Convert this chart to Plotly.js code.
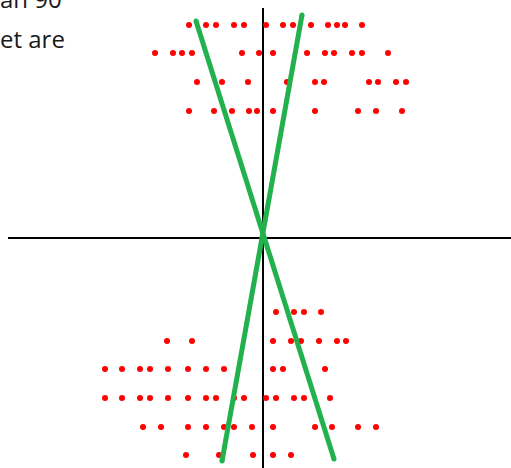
<!DOCTYPE html>
<html>
<head>
<meta charset="utf-8">
<script src="https://cdn.plot.ly/plotly-3.0.1.min.js"></script>
<style>
  html, body { margin: 0; padding: 0; background: #ffffff; }
  #chart { width: 511px; height: 468px; }
</style>
</head>
<body>
<div id="chart"></div>
<script>
// Row heights of the scattered dots (units from the origin, y up)
const rowY = [213, 185, 156, 127, -74, -103, -131, -160, -189, -217];

// Horizontal positions of the dots on each row
const rowX = [
  [-74, -57, -47, -29, -19, 3, 20, 30, 48, 65, 74, 82, 99],
  [-108, -90, -81, -71, -21, -4, 10, 44, 62, 71, 89, 99, 125],
  [-66, -41, -15, 24, 52, 61, 106, 115, 133, 143],
  [-74, -49, -31, -14, -6, 10, 52, 95, 113, 139],
  [13, 31, 41, 58],
  [-96, -71, 10, 28, 38, 56, 74, 83],
  [-158, -141, -123, -113, -95, -75, -57, -39, 10, 20, 62],
  [-158, -141, -123, -113, -95, -75, -57, -47, -29, -19, 3, 13, 31, 41, 67],
  [-120, -102, -75, -57, -39, -29, -11, 10, 52, 69, 95, 113],
  [-77, -44, -10, 10, 28]
];

// Two straight lines crossing at the origin
const lineAX = [-67, 71];
const lineAY = [217, -221];
const lineBX = [39, -41];
const lineBY = [223, -223];

// Text lines in the top-left corner
const textLines = ['an 90', 'et are'];

// Visible extent of the axes
const xRange = [-255, 248];
const yRange = [-230, 230];

const dotsX = [];
const dotsY = [];
rowX.forEach((xs, i) => xs.forEach(x => { dotsX.push(x); dotsY.push(rowY[i]); }));

const green = '#22b14c';

const traces = [
  {
    x: dotsX, y: dotsY, type: 'scatter', mode: 'markers',
    marker: { color: '#ff0000', size: 6 },
    hoverinfo: 'skip', showlegend: false
  },
  {
    x: lineAX, y: lineAY, type: 'scatter', mode: 'lines+markers',
    line: { color: green, width: 5 },
    marker: { color: green, size: 5 },
    hoverinfo: 'skip', showlegend: false
  },
  {
    x: lineBX, y: lineBY, type: 'scatter', mode: 'lines+markers',
    line: { color: green, width: 5 },
    marker: { color: green, size: 5 },
    hoverinfo: 'skip', showlegend: false
  }
];

const hiddenAxis = {
  showgrid: false, showticklabels: false, ticks: '', showline: false,
  zeroline: true, zerolinecolor: '#000000', zerolinewidth: 2,
  fixedrange: true
};

const textFont = { family: 'Open Sans, sans-serif', size: 24, color: '#1a1a1a' };

const layout = {
  width: 511, height: 468,
  margin: { l: 8, r: 0, t: 8, b: 0, pad: 0 },
  paper_bgcolor: '#ffffff', plot_bgcolor: '#ffffff',
  xaxis: Object.assign({ range: xRange }, hiddenAxis),
  yaxis: Object.assign({ range: yRange }, hiddenAxis),
  annotations: textLines.map((t, i) => ({
    text: t, xref: 'paper', yref: 'paper', x: 0, y: 1,
    xanchor: 'left', yanchor: 'middle',
    xshift: -10, yshift: 8 - (i === 0 ? -2 : 38),
    showarrow: false, font: textFont
  })),
  showlegend: false
};

Plotly.newPlot('chart', traces, layout, { staticPlot: true, displayModeBar: false });
</script>
</body>
</html>
